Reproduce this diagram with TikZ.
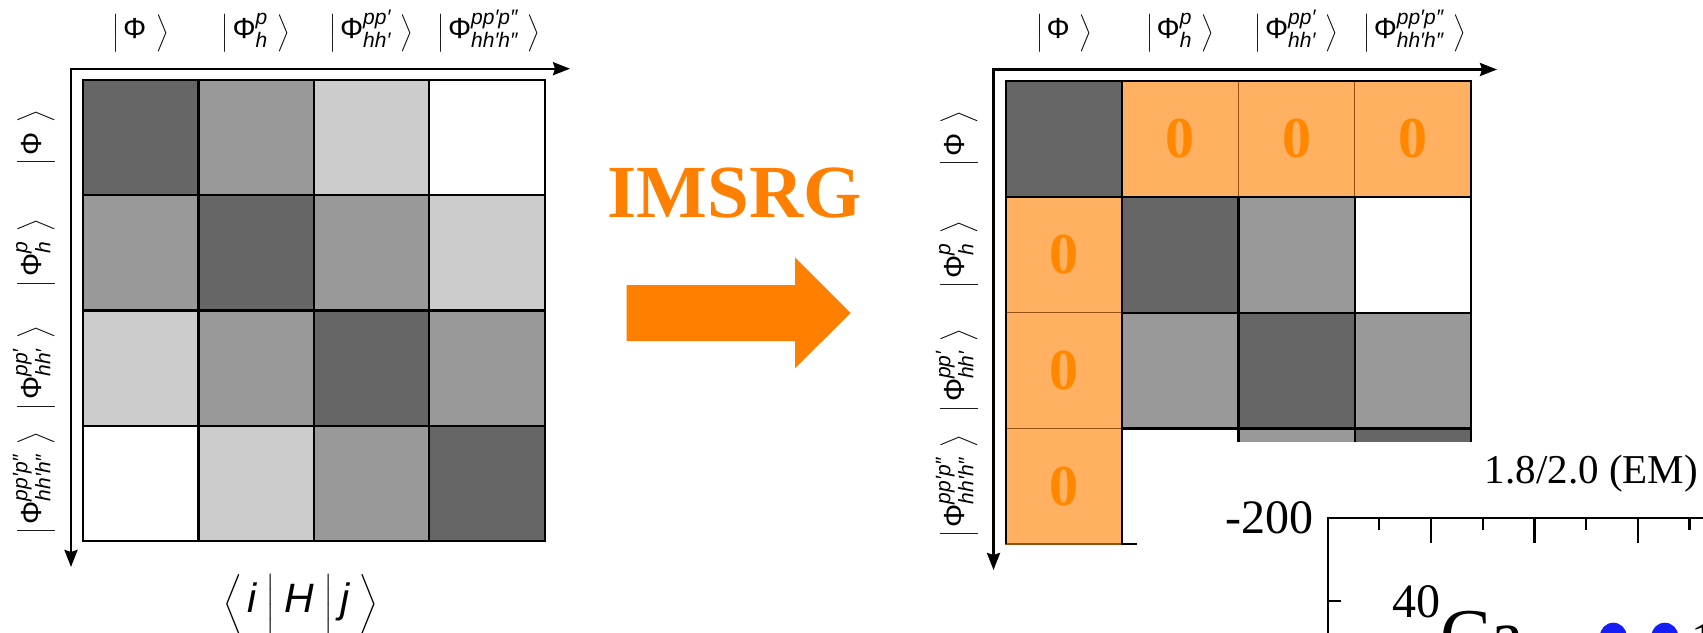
\RequirePackage{fix-cm}
\documentclass[tikz,border=0pt]{standalone}
\usepackage{exscale}
\usepackage{fontspec}
\setmainfont{Liberation Serif}
\newfontfamily\lab{Liberation Sans}
\usetikzlibrary{arrows.meta}
\definecolor{dk}{HTML}{666666}
\definecolor{md}{HTML}{999999}
\definecolor{lt}{HTML}{CCCCCC}
\definecolor{orfill}{RGB}{255,176,96}
\definecolor{orline}{RGB}{150,80,15}
\definecolor{ortext}{RGB}{255,136,0}
\definecolor{orarrow}{RGB}{255,128,0}
\definecolor{dotblue}{RGB}{20,30,245}
\newcommand{\PH}{\hbox{\fontsize{29}{29}\selectfont\lab Φ}}
\newcommand{\SC}[1]{\hbox{\fontsize{21}{21}\selectfont\lab\itshape #1}}
\newcommand{\KET}[1]{{\fontsize{22}{22}\selectfont$\Bigl|\mkern3mu #1\mkern8mu\Bigr\rangle$}}
\newcommand{\IT}[1]{\hbox{\fontsize{41}{41}\selectfont\lab\itshape #1}}
\tikzset{
  gridline/.style={line width=2.2pt, draw=black},
  axisline/.style={line width=2.4pt, {Stealth[length=17pt,width=13pt,inset=2pt]}-{Stealth[length=17pt,width=13pt,inset=2pt]}},
  toplab/.style={inner sep=0pt, anchor=south},
  sidelab/.style={inner sep=0pt, anchor=south, rotate=90},
  zero/.style={inner sep=0pt, text=ortext, font=\fontsize{58}{58}\selectfont\bfseries},
  plotline/.style={line width=2.4pt},
}
\begin{document}
\begin{tikzpicture}[x=1pt,y=-1pt]
\useasboundingbox (0,0) rectangle (1703,632);
\clip (0,0) rectangle (1703,632);
% ---------- left matrix ----------
\foreach \row [count=\r from 0] in {{dk,md,lt,white},{md,dk,md,lt},{lt,md,dk,md},{white,lt,md,dk}} {
  \foreach \col [count=\c from 0] in \row {
    \path[gridline, fill=\col] (83+\c*115.4, 80+\r*115.25) rectangle ++(115.4,115.25);
  }
}
\coordinate (LO) at (71,68.7);
\coordinate (LX) at (570,68.7);
\coordinate (LY) at (71,567);
\draw[axisline] (LX) -- (LO) -- (LY);
\node[toplab] (lt1) at (140.7,53) {\KET{\PH}};
\node[toplab] (lt2) at (256.1,53) {\KET{\PH^{\SC{p}}_{\SC{h}}}};
\node[toplab] (lt3) at (371.5,53) {\KET{\PH^{\SC{pp′}}_{\SC{hh′}}}};
\node[toplab] (lt4) at (489,53) {\KET{\PH^{\SC{pp′p″}}_{\SC{hh′h″}}}};
\node[sidelab] (ls1) at (56,137.6) {\KET{\PH}};
\node[sidelab] (ls2) at (56,252.9) {\KET{\PH^{\SC{p}}_{\SC{h}}}};
\node[sidelab] (ls3) at (56,368.1) {\KET{\PH^{\SC{pp′}}_{\SC{hh′}}}};
\node[sidelab] (ls4) at (56,483.4) {\KET{\PH^{\SC{pp′p″}}_{\SC{hh′h″}}}};
\node[inner sep=0pt] (hij) at (301,604.5) {{\fontsize{30}{30}\selectfont$\Bigl\langle\mkern3mu\IT{i}\mkern1mu\Bigm|\mkern1mu\IT{H}\mkern1mu\Bigm|\IT{j}\mkern6mu\Bigr\rangle$}};
% ---------- arrow ----------
\node[inner sep=0pt, text=orarrow, font=\fontsize{75}{75}\selectfont\bfseries] (imsrg) at (734.5,193.5) {IMSRG};
\fill[orarrow] (626.7,285) -- (795,285) -- (795,257.3) -- (850.7,313) -- (795,368.3) -- (795,341) -- (626.7,341) -- cycle;
% ---------- right matrix ----------
\foreach \c/\r in {1/0,2/0,3/0,0/1,0/2,0/3} {
  \path[line width=1.6pt, draw=orline, fill=orfill] (1006+\c*116.2, 81+\r*115.8) rectangle ++(116.2,115.8);
}
\foreach \c/\r/\col in {0/0/dk,1/1/dk,2/1/md,3/1/white,1/2/md,2/2/dk,3/2/md,1/3/white,2/3/md,3/3/dk} {
  \path[gridline, fill=\col] (1006+\c*116.2, 81+\r*115.8) rectangle ++(116.2,115.8);
}
\draw[gridline] (1006,544.2) -- (1006,81) -- (1470.8,81) -- (1470.8,196.8);
\draw[gridline] (1006,196.8) -- (1470.8,196.8);
\foreach \c/\r in {1/0,2/0,3/0,0/1,0/2,0/3} {
  \node[zero] (z\c\r) at (1006+\c*116.2+58.1, 81+\r*115.8+57.9) {0};
}
\coordinate (RO) at (993.5,69.5);
\coordinate (RX) at (1497,69.5);
\coordinate (RY) at (993.5,570);
\draw[axisline] (RX) -- (RO) -- (RY);
\node[toplab] (rt1) at (1064.1,53) {\KET{\PH}};
\node[toplab] (rt2) at (1180.3,53) {\KET{\PH^{\SC{p}}_{\SC{h}}}};
\node[toplab] (rt3) at (1296.5,53) {\KET{\PH^{\SC{pp′}}_{\SC{hh′}}}};
\node[toplab] (rt4) at (1414.7,53) {\KET{\PH^{\SC{pp′p″}}_{\SC{hh′h″}}}};
\node[sidelab] (rs1) at (979,138.9) {\KET{\PH}};
\node[sidelab] (rs2) at (979,254.7) {\KET{\PH^{\SC{p}}_{\SC{h}}}};
\node[sidelab] (rs3) at (979,370.5) {\KET{\PH^{\SC{pp′}}_{\SC{hh′}}}};
\node[sidelab] (rs4) at (979,486.3) {\KET{\PH^{\SC{pp′p″}}_{\SC{hh′h″}}}};
% ---------- overlaid plot ----------
\fill[white] (1137,442) rectangle (1703,632);
\node[inner sep=0pt, anchor=base east, font=\fontsize{41}{41}\selectfont] (em) at (1698,483) {1.8/2.0 (EM)};
\node[inner sep=0pt, anchor=base east, font=\fontsize{48}{48}\selectfont] (m200) at (1314,533) {-200};
\coordinate (PB) at (1328,640);
\coordinate (PC) at (1328,517.7);
\coordinate (PR) at (1710,517.7);
\draw[plotline] (PB) -- (PC) -- (PR);
\foreach \x in {1430.7,1534.3,1637.7} { \draw[plotline] (\x,517.7) -- ++(0,25); }
\foreach \x in {1379,1482.7,1586,1689.3} { \draw[plotline] (\x,517.7) -- ++(0,12); }
\draw[plotline] (1328,601) -- ++(13,0);
\node[inner sep=0pt, anchor=base west, font=\fontsize{48}{48}\selectfont] (ca40) at (1392,617) {40};
\node[inner sep=0pt, anchor=base west, font=\fontsize{76}{76}\selectfont] (ca) at (1440,661) {Ca};
\fill[dotblue] (1613.3,636) circle (13.3);
\fill[dotblue] (1664.8,636) circle (13.3);
\node[inner sep=0pt, anchor=base west, font=\fontsize{48}{48}\selectfont] (one) at (1691,655) {1};
\end{tikzpicture}
\end{document}
